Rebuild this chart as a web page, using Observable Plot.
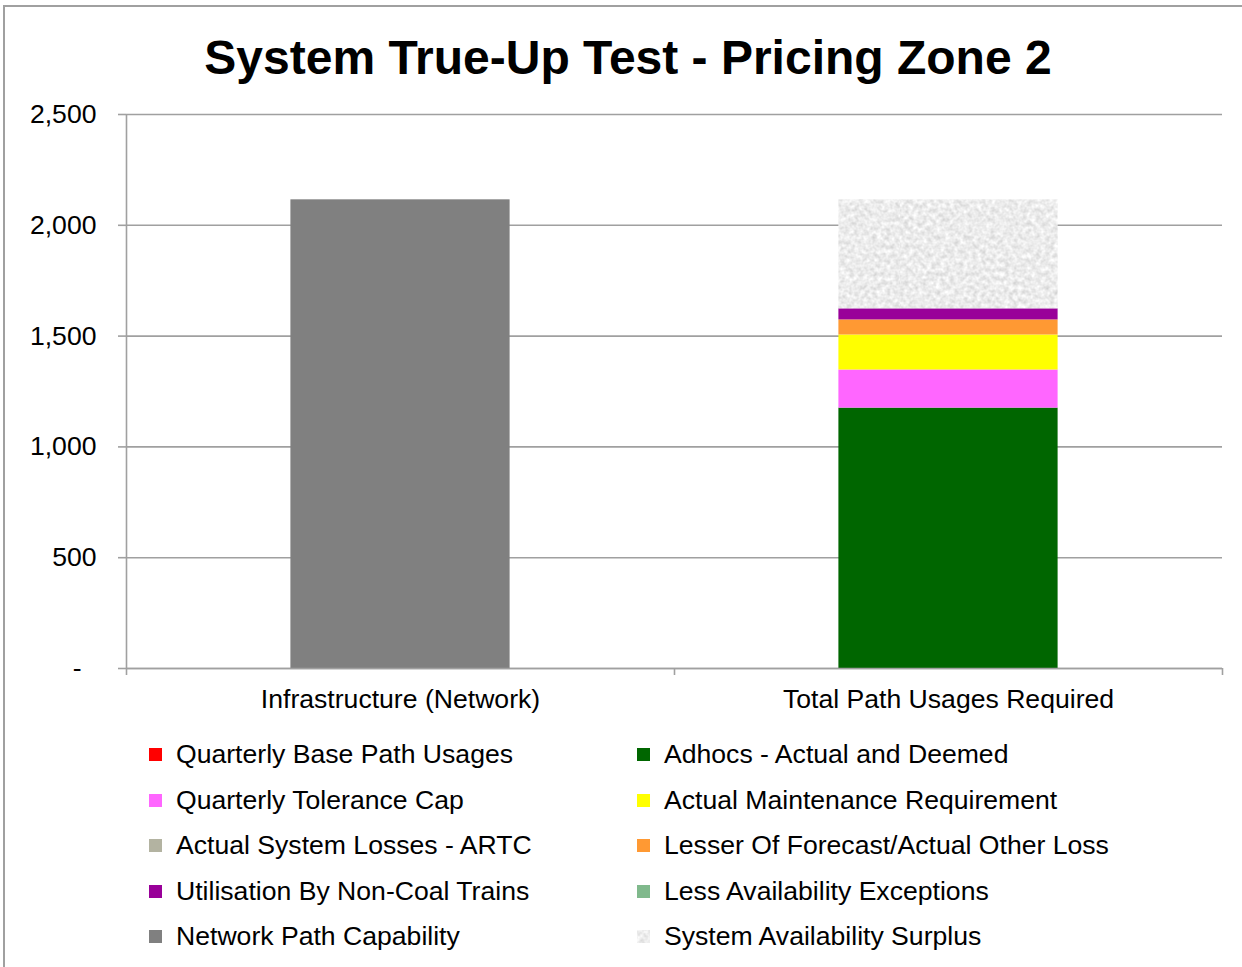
<!DOCTYPE html>
<html><head><meta charset="utf-8">
<script src="https://cdn.jsdelivr.net/npm/d3@7"></script>
<script src="https://cdn.jsdelivr.net/npm/@observablehq/plot@0.6"></script>
<style>
body{margin:0;background:#fff;font-family:"Liberation Sans",Arial,sans-serif;}
#wrap{position:relative;width:1242px;height:967px;overflow:hidden;background:#fff;}
#frame{position:absolute;left:3px;top:5px;width:1300px;height:1000px;border-left:2px solid #a0a0a0;border-top:2px solid #a0a0a0;pointer-events:none;}
#title{height:95px;box-sizing:border-box;padding-top:30px;padding-left:14px;text-align:center;font-size:48px;font-weight:bold;line-height:1.15;color:#000;white-space:nowrap;}
#chart svg{display:block;}
#legend{display:grid;grid-template-columns:488px 488px;grid-auto-rows:45.5px;padding-left:149px;margin-top:12px;}
.item{display:flex;align-items:center;font-size:26.6px;color:#000;white-space:nowrap;}
.sw{width:13px;height:13px;margin-right:14px;flex:none;}
</style>
</head><body>
<svg width="0" height="0" style="position:absolute">
<defs>
<filter id="noiseF" x="0" y="0" width="1" height="1" color-interpolation-filters="sRGB">
<feTurbulence type="fractalNoise" baseFrequency="0.22" numOctaves="2" seed="7"/>
<feColorMatrix type="matrix" values="0.25 0 0 0 0.8  0.25 0 0 0 0.8  0.25 0 0 0 0.8  0 0 0 0 1"/>
</filter>
<pattern id="noise" patternUnits="userSpaceOnUse" width="300" height="300">
<rect width="300" height="300" fill="#eee" filter="url(#noiseF)"/>
</pattern>
<pattern id="noiseSw" patternUnits="userSpaceOnUse" width="13" height="13">
<rect width="13" height="13" fill="#eee" filter="url(#noiseF)"/>
</pattern>
</defs>
</svg>
<div id="wrap">
<div id="frame"></div>
<div id="title">System True-Up Test - Pricing Zone 2</div>
<div id="chart"></div>
<div id="legend"></div>
</div>
<script>
const categories = ["Infrastructure (Network)", "Total Path Usages Required"];
const seriesNames = [
  "Quarterly Base Path Usages",
  "Adhocs - Actual and Deemed",
  "Quarterly Tolerance Cap",
  "Actual Maintenance Requirement",
  "Actual System Losses - ARTC",
  "Lesser Of Forecast/Actual Other Loss",
  "Utilisation By Non-Coal Trains",
  "Less Availability Exceptions",
  "Network Path Capability",
  "System Availability Surplus"
];
const seriesColors = ["#ff0000", "#006600", "#ff66ff", "#ffff00", "#b3b3a1", "#ff9933", "#990099", "#80b98c", "#808080", "url(#noise)"];
const legendSwatches = ["#ff0000", "#006600", "#ff66ff", "#ffff00", "#b3b3a1", "#ff9933", "#990099", "#80b98c", "#808080", "url(#noiseSw)"];
const infrastructureValues = [0, 0, 0, 0, 0, 0, 0, 0, 2115, 0];
const totalPathValues = [0, 1175, 172, 158, 0, 68, 50, 0, 0, 492];
const yTicks = [0, 500, 1000, 1500, 2000, 2500];

const valuesByCategory = [infrastructureValues, totalPathValues];
const rows = [];
categories.forEach((c, i) => {
  seriesNames.forEach((s, j) => {
    rows.push({category: c, index: i, series: s, value: valuesByCategory[i][j]});
  });
});
const barRows = rows.filter(d => d.value > 0);
const gridColor = "#a0a0a0";
const fmt = d3.format(",");

const chart = Plot.plot({
  width: 1242,
  height: 625,
  marginTop: 19,
  marginBottom: 52,
  marginLeft: 126,
  marginRight: 20,
  style: {fontFamily: "'Liberation Sans', Arial, sans-serif", background: "transparent", color: "#000"},
  x: {type: "linear", domain: [0, categories.length], axis: null},
  y: {domain: [0, 2500], axis: null},
  color: {domain: seriesNames, range: seriesColors},
  marks: [
    Plot.gridY(yTicks, {stroke: gridColor, strokeOpacity: 1, strokeWidth: 1.6}),
    Plot.rectY(barRows, Plot.stackY({
      x1: d => d.index + 0.3,
      x2: d => d.index + 0.7,
      y: "value",
      fill: "series"
    })),
    Plot.ruleX([0], {stroke: gridColor, strokeWidth: 1.6}),
    Plot.ruleY([0], {stroke: gridColor, strokeWidth: 1.6}),
    Plot.axisY(yTicks, {
      label: null,
      tickSize: 8, tickPadding: 22, fontSize: 26.6,
      stroke: gridColor, strokeWidth: 1.6, fill: "#000",
      tickFormat: d => d === 0 ? "-\u2007" : fmt(d)
    }),
    Plot.axisX(d3.range(categories.length + 1), {
      label: null,
      tickSize: 7, stroke: gridColor, strokeWidth: 1.6, tickFormat: () => ""
    }),
    Plot.axisX(categories.map((c, i) => i + 0.5), {
      label: null,
      tickSize: 0, tickPadding: 21, fontSize: 26.6, fill: "#000",
      tickFormat: d => categories[Math.floor(d)]
    })
  ]
});
document.getElementById("chart").appendChild(chart);

const legend = document.getElementById("legend");
seriesNames.forEach((s, j) => {
  const item = document.createElement("div");
  item.className = "item";
  const sw = document.createElementNS("http://www.w3.org/2000/svg", "svg");
  sw.setAttribute("class", "sw");
  sw.setAttribute("width", 13);
  sw.setAttribute("height", 13);
  const r = document.createElementNS("http://www.w3.org/2000/svg", "rect");
  r.setAttribute("width", 13);
  r.setAttribute("height", 13);
  r.setAttribute("fill", legendSwatches[j]);
  sw.appendChild(r);
  const t = document.createElement("span");
  t.textContent = s;
  item.appendChild(sw);
  item.appendChild(t);
  legend.appendChild(item);
});
</script>
</body></html>
